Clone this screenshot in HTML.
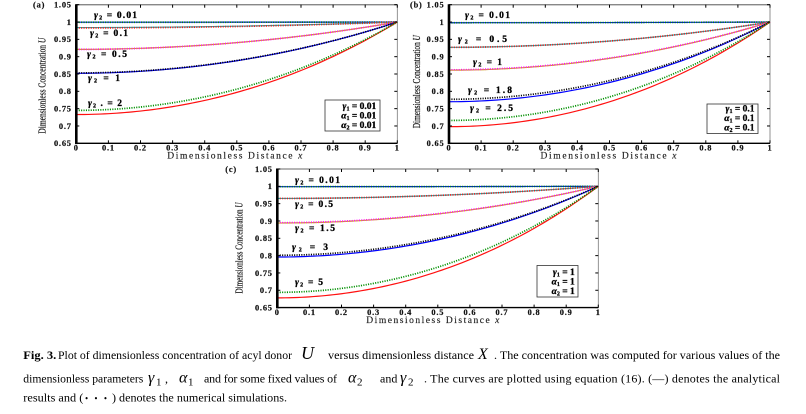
<!DOCTYPE html>
<html><head><meta charset="utf-8">
<style>
html,body{margin:0;padding:0;background:#fff;}
svg{display:block;}
text{font-family:"Liberation Serif",serif;}
.tk{font-size:8.4px;font-weight:bold;letter-spacing:0.8px;fill:#111;stroke:#111;stroke-width:0.2;}
.lb{font-size:9.5px;font-weight:bold;fill:#000;stroke:#000;stroke-width:0.3;}
.cap{font-size:12px;fill:#000;}
</style></head>
<body>
<svg id="s" width="806" height="414" viewBox="0 0 806 414" xmlns="http://www.w3.org/2000/svg">
<rect width="806" height="414" fill="#fff"/>

<!-- Panel A -->
<g id="pA" transform="translate(76.3,4.7)">
 <g class="curves"></g>
 <g class="tk">
  <text x="-4.5" y="2.8" text-anchor="end">1.05</text>
  <text x="-4.5" y="20.1" text-anchor="end">1</text>
  <text x="-4.5" y="37.5" text-anchor="end">0.95</text>
  <text x="-4.5" y="54.8" text-anchor="end">0.9</text>
  <text x="-4.5" y="72.1" text-anchor="end">0.85</text>
  <text x="-4.5" y="89.4" text-anchor="end">0.8</text>
  <text x="-4.5" y="106.8" text-anchor="end">0.75</text>
  <text x="-4.5" y="124.1" text-anchor="end">0.7</text>
  <text x="-4.5" y="141.4" text-anchor="end">0.65</text>
  <text x="0" y="145.8" text-anchor="middle">0</text>
  <text x="32.1" y="145.8" text-anchor="middle">0.1</text>
  <text x="64.2" y="145.8" text-anchor="middle">0.2</text>
  <text x="96.3" y="145.8" text-anchor="middle">0.3</text>
  <text x="128.4" y="145.8" text-anchor="middle">0.4</text>
  <text x="160.5" y="145.8" text-anchor="middle">0.5</text>
  <text x="192.6" y="145.8" text-anchor="middle">0.6</text>
  <text x="224.7" y="145.8" text-anchor="middle">0.7</text>
  <text x="256.8" y="145.8" text-anchor="middle">0.8</text>
  <text x="288.9" y="145.8" text-anchor="middle">0.9</text>
  <text x="321" y="145.8" text-anchor="middle">1</text>
  <text x="-43.3" y="3">(a)</text>
 </g>
 <text x="159" y="154" text-anchor="middle" font-size="9.5" letter-spacing="1" textLength="136" lengthAdjust="spacing" fill="#222" stroke="#222" stroke-width="0.15">Dimensionless Distance <tspan font-style="italic">x</tspan></text>
 <text transform="translate(-31,81) rotate(-90)" text-anchor="middle" font-size="10.5" textLength="96" lengthAdjust="spacingAndGlyphs" fill="#111" stroke="#111" stroke-width="0.2">Dimensionless Concentration <tspan font-style="italic">U</tspan></text>
 <g class="lb">
  <text x="17.7" y="13.3" textLength="43"><tspan font-style="italic">γ</tspan><tspan font-size="6" dy="1.5">2</tspan><tspan dy="-1.5"> = 0.01</tspan></text>
  <text x="13.7" y="31.3" textLength="38"><tspan font-style="italic">γ</tspan><tspan font-size="6" dy="1.5">2</tspan><tspan dy="-1.5"> = 0.1</tspan></text>
  <text x="10.7" y="52.3" textLength="40"><tspan font-style="italic">γ</tspan><tspan font-size="6" dy="1.5">2</tspan><tspan dy="-1.5"> = 0.5</tspan></text>
  <text x="11.7" y="76.3" textLength="32"><tspan font-style="italic">γ</tspan><tspan font-size="6" dy="1.5">2</tspan><tspan dy="-1.5"> = 1</tspan></text>
  <text x="11.7" y="101.3" textLength="34"><tspan font-style="italic">γ</tspan><tspan font-size="6" dy="1.5">2</tspan><tspan dy="-1.5"> . = 2</tspan></text>
 </g>
 <rect x="248.7" y="95.3" width="55" height="31" fill="#fff" stroke="#333" stroke-width="0.8"/>
 <g class="lb" text-anchor="end">
  <text x="300" y="104.5"><tspan font-style="italic">γ</tspan><tspan font-size="6" dy="1.5">1</tspan><tspan dy="-1.5"> = 0.01</tspan></text>
  <text x="300" y="114"><tspan font-style="italic">α</tspan><tspan font-size="6" dy="1.5">1</tspan><tspan dy="-1.5"> = 0.01</tspan></text>
  <text x="300" y="123.5"><tspan font-style="italic">α</tspan><tspan font-size="6" dy="1.5">2</tspan><tspan dy="-1.5"> = 0.01</tspan></text>
 </g>
</g>

<!-- Panel B -->
<g id="pB" transform="translate(449,4.7)">
 <g class="curves"></g>
 <g class="tk">
  <text x="-4.5" y="2.8" text-anchor="end">1.05</text>
  <text x="-4.5" y="20.1" text-anchor="end">1</text>
  <text x="-4.5" y="37.5" text-anchor="end">0.95</text>
  <text x="-4.5" y="54.8" text-anchor="end">0.9</text>
  <text x="-4.5" y="72.1" text-anchor="end">0.85</text>
  <text x="-4.5" y="89.4" text-anchor="end">0.8</text>
  <text x="-4.5" y="106.8" text-anchor="end">0.75</text>
  <text x="-4.5" y="124.1" text-anchor="end">0.7</text>
  <text x="-4.5" y="141.4" text-anchor="end">0.65</text>
  <text x="0" y="145.8" text-anchor="middle">0</text>
  <text x="32.1" y="145.8" text-anchor="middle">0.1</text>
  <text x="64.2" y="145.8" text-anchor="middle">0.2</text>
  <text x="96.3" y="145.8" text-anchor="middle">0.3</text>
  <text x="128.4" y="145.8" text-anchor="middle">0.4</text>
  <text x="160.5" y="145.8" text-anchor="middle">0.5</text>
  <text x="192.6" y="145.8" text-anchor="middle">0.6</text>
  <text x="224.7" y="145.8" text-anchor="middle">0.7</text>
  <text x="256.8" y="145.8" text-anchor="middle">0.8</text>
  <text x="288.9" y="145.8" text-anchor="middle">0.9</text>
  <text x="321" y="145.8" text-anchor="middle">1</text>
  <text x="-39" y="3">(b)</text>
 </g>
 <text x="160" y="154" text-anchor="middle" font-size="9.5" letter-spacing="1" textLength="137" lengthAdjust="spacing" fill="#222" stroke="#222" stroke-width="0.15">Dimensionless Distance <tspan font-style="italic">x</tspan></text>
 <text transform="translate(-29,77) rotate(-90)" text-anchor="middle" font-size="10.5" textLength="93" lengthAdjust="spacingAndGlyphs" fill="#111" stroke="#111" stroke-width="0.2">Dimensionless Concentration <tspan font-style="italic">U</tspan></text>
 <g class="lb">
  <text x="16" y="13.3" textLength="45"><tspan font-style="italic">γ</tspan><tspan font-size="6" dy="1.5">2</tspan><tspan dy="-1.5"> = 0.01</tspan></text>
  <text x="9" y="37.3" textLength="49"><tspan font-style="italic">γ</tspan><tspan font-size="6" dy="1.5">2</tspan><tspan dy="-1.5">  = 0.5</tspan></text>
  <text x="24" y="60.3" textLength="29"><tspan font-style="italic">γ</tspan><tspan font-size="6" dy="1.5">2</tspan><tspan dy="-1.5"> = 1</tspan></text>
  <text x="19" y="88.3" textLength="44"><tspan font-style="italic">γ</tspan><tspan font-size="6" dy="1.5">2</tspan><tspan dy="-1.5">  = 1.8</tspan></text>
  <text x="21" y="106.3" textLength="43"><tspan font-style="italic">γ</tspan><tspan font-size="6" dy="1.5">2</tspan><tspan dy="-1.5"> = 2.5</tspan></text>
 </g>
 <rect x="258" y="99.3" width="51" height="29.5" fill="#fff" stroke="#333" stroke-width="0.8"/>
 <g class="lb" text-anchor="end">
  <text x="305.5" y="107"><tspan font-style="italic">γ</tspan><tspan font-size="6" dy="1.5">1</tspan><tspan dy="-1.5">  = 0.1</tspan></text>
  <text x="305.5" y="116.5"><tspan font-style="italic">α</tspan><tspan font-size="6" dy="1.5">1</tspan><tspan dy="-1.5"> = 0.1</tspan></text>
  <text x="305.5" y="126"><tspan font-style="italic">α</tspan><tspan font-size="6" dy="1.5">2</tspan><tspan dy="-1.5"> = 0.1</tspan></text>
 </g>
</g>

<!-- Panel C -->
<g id="pC" transform="translate(277.3,169)">
 <g class="curves"></g>
 <g class="tk">
  <text x="-4.5" y="2.8" text-anchor="end">1.05</text>
  <text x="-4.5" y="20.1" text-anchor="end">1</text>
  <text x="-4.5" y="37.5" text-anchor="end">0.95</text>
  <text x="-4.5" y="54.8" text-anchor="end">0.9</text>
  <text x="-4.5" y="72.1" text-anchor="end">0.85</text>
  <text x="-4.5" y="89.4" text-anchor="end">0.8</text>
  <text x="-4.5" y="106.8" text-anchor="end">0.75</text>
  <text x="-4.5" y="124.1" text-anchor="end">0.7</text>
  <text x="-4.5" y="141.4" text-anchor="end">0.65</text>
  <text x="0" y="145.8" text-anchor="middle">0</text>
  <text x="32.1" y="145.8" text-anchor="middle">0.1</text>
  <text x="64.2" y="145.8" text-anchor="middle">0.2</text>
  <text x="96.3" y="145.8" text-anchor="middle">0.3</text>
  <text x="128.4" y="145.8" text-anchor="middle">0.4</text>
  <text x="160.5" y="145.8" text-anchor="middle">0.5</text>
  <text x="192.6" y="145.8" text-anchor="middle">0.6</text>
  <text x="224.7" y="145.8" text-anchor="middle">0.7</text>
  <text x="256.8" y="145.8" text-anchor="middle">0.8</text>
  <text x="288.9" y="145.8" text-anchor="middle">0.9</text>
  <text x="321" y="145.8" text-anchor="middle">1</text>
  <text x="-52" y="3">(c)</text>
 </g>
 <text x="156" y="154" text-anchor="middle" font-size="9.5" letter-spacing="1" textLength="134" lengthAdjust="spacing" fill="#222" stroke="#222" stroke-width="0.15">Dimensionless Distance <tspan font-style="italic">x</tspan></text>
 <text transform="translate(-35,79) rotate(-90)" text-anchor="middle" font-size="10.5" textLength="91" lengthAdjust="spacingAndGlyphs" fill="#111" stroke="#111" stroke-width="0.2">Dimensionless Concentration <tspan font-style="italic">U</tspan></text>
 <g class="lb">
  <text x="17.7" y="14" textLength="45"><tspan font-style="italic">γ</tspan><tspan font-size="6" dy="1.5">2</tspan><tspan dy="-1.5">  = 0.01</tspan></text>
  <text x="17.7" y="38" textLength="38"><tspan font-style="italic">γ</tspan><tspan font-size="6" dy="1.5">2</tspan><tspan dy="-1.5"> = 0.5</tspan></text>
  <text x="17.7" y="62" textLength="40"><tspan font-style="italic">γ</tspan><tspan font-size="6" dy="1.5">2</tspan><tspan dy="-1.5"> = 1.5</tspan></text>
  <text x="14.7" y="81" textLength="36"><tspan font-style="italic">γ</tspan><tspan font-size="6" dy="1.5">2</tspan><tspan dy="-1.5">  = 3</tspan></text>
  <text x="17.7" y="116" textLength="28"><tspan font-style="italic">γ</tspan><tspan font-size="6" dy="1.5">2</tspan><tspan dy="-1.5"> = 5</tspan></text>
 </g>
 <rect x="259.7" y="96.5" width="41" height="31.5" fill="#fff" stroke="#333" stroke-width="0.8"/>
 <g class="lb" text-anchor="end">
  <text x="297.5" y="106"><tspan font-style="italic">γ</tspan><tspan font-size="6" dy="1.5">1</tspan><tspan dy="-1.5"> = 1</tspan></text>
  <text x="297.5" y="115.5"><tspan font-style="italic">α</tspan><tspan font-size="6" dy="1.5">1</tspan><tspan dy="-1.5"> = 1</tspan></text>
  <text x="297.5" y="125"><tspan font-style="italic">α</tspan><tspan font-size="6" dy="1.5">2</tspan><tspan dy="-1.5"> = 1</tspan></text>
 </g>
</g>

<!-- Caption -->
<g class="cap">
 <text x="23.3" y="359" font-weight="bold" textLength="33" lengthAdjust="spacingAndGlyphs">Fig. 3.</text>
 <text x="58" y="359" textLength="234" lengthAdjust="spacingAndGlyphs">Plot of dimensionless concentration of acyl donor</text>
 <text x="301" y="359" font-style="italic" font-size="18">U</text>
 <text x="328" y="359" textLength="146" lengthAdjust="spacingAndGlyphs">versus dimensionless distance</text>
 <text x="478" y="359" font-style="italic" font-size="16">X</text>
 <text x="494" y="359" textLength="286" lengthAdjust="spacingAndGlyphs">. The concentration was computed for various values of the</text>

 <text x="23.3" y="382.5" textLength="120" lengthAdjust="spacingAndGlyphs">dimensionless parameters</text>
 <text x="148" y="382.5" font-style="italic" font-size="16">γ</text>
 <text x="156" y="385.5" font-size="11">1</text>
 <text x="165" y="382.5">,</text>
 <text x="179" y="382.5" font-style="italic" font-size="16">α</text>
 <text x="188" y="385.5" font-size="11">1</text>
 <text x="204" y="382.5" textLength="133" lengthAdjust="spacing">and for some fixed values of</text>
 <text x="348" y="382.5" font-style="italic" font-size="16">α</text>
 <text x="357" y="385.5" font-size="11">2</text>
 <text x="380" y="382.5">and</text>
 <text x="400" y="382.5" font-style="italic" font-size="16">γ</text>
 <text x="408" y="385.5" font-size="11">2</text>
 <text x="424" y="382.5" textLength="356" lengthAdjust="spacing">. The curves are plotted using equation (16). (—) denotes the analytical</text>

 <text x="23.3" y="401.5" textLength="60" lengthAdjust="spacingAndGlyphs">results and (</text>
 <text x="85" y="401.5" font-size="9" textLength="22" lengthAdjust="spacing">• • •</text>
 <text x="112" y="401.5" textLength="175" lengthAdjust="spacingAndGlyphs">) denotes the numerical simulations.</text>
</g>
</svg>
<script>
(function(){
var NS="http://www.w3.org/2000/svg";
var W=321,H=138.6;
function U(u0,x){ if(u0>=0.99999) return 1; var a=Math.acosh(1/u0); return Math.cosh(a*x)/Math.cosh(a);}
function path(u0){ var d=""; for(var i=0;i<=80;i++){var x=i/80; var y=(1.05-U(u0,x))/0.4*H; d+=(i?"L":"M")+(x*W).toFixed(2)+" "+y.toFixed(2);} return d;}
function el(g,tag,attrs){var e=document.createElementNS(NS,tag); for(var k in attrs) e.setAttribute(k,attrs[k]); g.appendChild(e); return e;}
var C={blue:"#0000ff",red:"#ff1010",green:"#009000",cyan:"#00c0c0",mag:"#ff00ff",yel:"#c8c000",blk:"#000"};
var data={
 pA:[["blue",0.9995,"green",0.9993],["cyan",0.984,"red",0.983],["yel",0.921,"mag",0.921],["blue",0.852,"blk",0.853],["red",0.733,"green",0.745]],
 pB:[["blue",0.998,"green",0.998],["cyan",0.927,"red",0.927],["yel",0.861,"mag",0.862],["blue",0.770,"blk",0.777],["red",0.698,"green",0.716]],
 pC:[["blue",0.999,"green",0.999],["cyan",0.965,"red",0.965],["yel",0.894,"mag",0.895],["blue",0.796,"blk",0.801],["red",0.678,"green",0.694]]
};
for(var id in data){
 var p=document.getElementById(id); var g=p.querySelector(".curves");
 el(g,"rect",{x:0,y:0,width:W,height:H,fill:"none",stroke:"#777","stroke-width":0.8});
 el(g,"line",{x1:0,y1:0,x2:W,y2:0,stroke:"#888","stroke-width":1.3});
 data[id].forEach(function(c){
  el(g,"path",{d:path(c[1]),fill:"none",stroke:C[c[0]],"stroke-width":1.2});
  el(g,"path",{d:path(c[3]),fill:"none",stroke:C[c[2]],"stroke-width":1.7,"stroke-dasharray":"1.1 1.3"});
 });
 for(var i=0;i<=8;i++){var y=i*H/8;
  el(g,"line",{x1:0,y1:y,x2:3,y2:y,stroke:"#000","stroke-width":1});
  el(g,"line",{x1:W,y1:y,x2:W-3,y2:y,stroke:"#000","stroke-width":1});}
 for(var j=0;j<=10;j++){var x=j*W/10;
  el(g,"line",{x1:x,y1:H,x2:x,y2:H-3,stroke:"#000","stroke-width":1});
  el(g,"line",{x1:x,y1:0,x2:x,y2:3,stroke:"#000","stroke-width":1});}
 el(g,"line",{x1:0,y1:-0.5,x2:0,y2:H+0.8,stroke:"#000","stroke-width":2.6});
 el(g,"line",{x1:0,y1:H,x2:W,y2:H,stroke:"#000","stroke-width":1.4});
}
})();
</script>
</body></html>
